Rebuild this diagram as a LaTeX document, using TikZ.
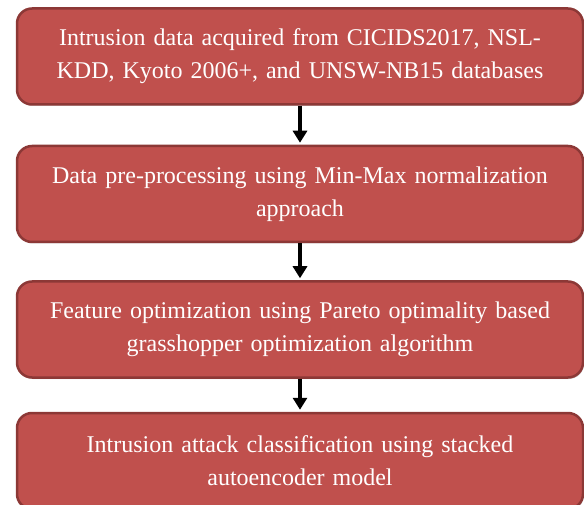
\documentclass[tikz,border=0pt]{standalone}
\usepackage{fontspec}
\setmainfont{Liberation Serif}
\usetikzlibrary{arrows.meta,positioning,shadows}
\definecolor{boxred}{HTML}{C0504D}
\definecolor{boxedge}{HTML}{8C3836}
\begin{document}
\begin{tikzpicture}[x=1pt,y=1pt,
  stepbox/.style={draw=boxedge,line width=2.5pt,fill=boxred,rounded corners=15pt,
    minimum width=566pt,minimum height=96pt,text width=556pt,align=center,
    text=white,font=\fontsize{24}{33}\selectfont,
    drop shadow={shadow xshift=1pt,shadow yshift=-1.5pt,opacity=0.35}},
  flow/.style={-{Triangle[length=12pt,width=14pt]},line width=4pt,shorten >=2pt}]
  \useasboundingbox (0,0) rectangle (584,504);
  % etapas
  \node[stepbox] (data) at (300,447.5) {Intrusion data acquired from CICIDS2017, NSL-\\KDD, Kyoto 2006+, and UNSW-NB15 databases};
  \node[stepbox,below=39pt of data] (prep) {Data pre-processing using Min-Max normalization\\approach};
  \node[stepbox,below=37pt of prep] (feat) {Feature optimization using Pareto optimality based\\grasshopper optimization algorithm};
  \node[stepbox,below=33pt of feat] (clas) {Intrusion attack classification using stacked\\autoencoder model};
  % flechas
  \draw[flow] (data) -- (prep);
  \draw[flow] (prep) -- (feat);
  \draw[flow] (feat) -- (clas);
\end{tikzpicture}
\end{document}
